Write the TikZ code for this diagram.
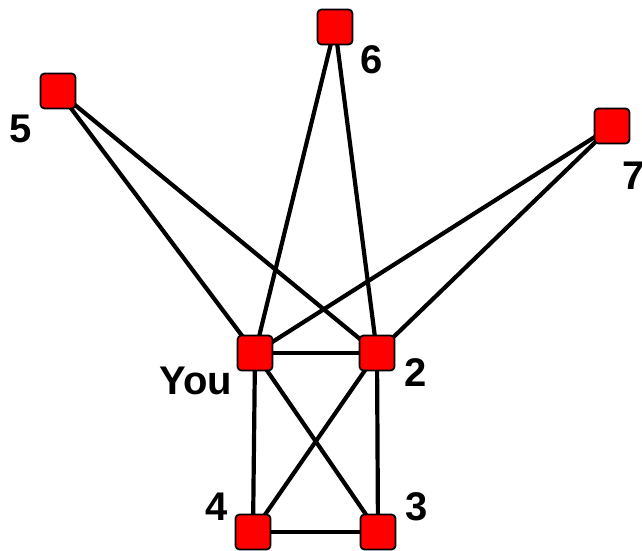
\documentclass[tikz,border=0pt]{standalone}
\usepackage{fontspec}
\setmainfont{Liberation Sans}
\begin{document}
\begin{tikzpicture}[x=1pt,y=-1pt,
  sq/.style={draw=black,line width=1.8pt,fill=red,rounded corners=4pt,minimum size=35pt,inner sep=0pt},
  lbl/.style={font=\fontsize{40}{44}\selectfont\bfseries,inner sep=0pt},
  edge/.style={draw=black,line width=4.2pt}]
\useasboundingbox (0,0) rectangle (642,551);
\coordinate (p5) at (58,91);
\coordinate (p6) at (335,27);
\coordinate (p7) at (612,126);
\coordinate (pY) at (255,353);
\coordinate (p2) at (377,353);
\coordinate (p4) at (253,532);
\coordinate (p3) at (378,532);
\foreach \a/\b in {5/Y,5/2,6/Y,6/2,7/Y,7/2,Y/2,Y/4,Y/3,2/4,2/3,4/3}
  \draw[edge] (p\a) -- (p\b);
\node[sq] (n5) at (p5) {};
\node[sq] (n6) at (p6) {};
\node[sq] (n7) at (p7) {};
\node[sq] (nY) at (pY) {};
\node[sq] (n2) at (p2) {};
\node[sq] (n4) at (p4) {};
\node[sq] (n3) at (p3) {};
\node[lbl] (l5) at (21,129) {5};
\node[lbl] (l6) at (372,60) {6};
\node[lbl] (l7) at (634,176) {7};
\node[lbl] (lY) at (196,381) {You};
\node[lbl] (l2) at (416,373) {2};
\node[lbl] (l4) at (217,507) {4};
\node[lbl] (l3) at (417,507) {3};
\end{tikzpicture}
\end{document}
